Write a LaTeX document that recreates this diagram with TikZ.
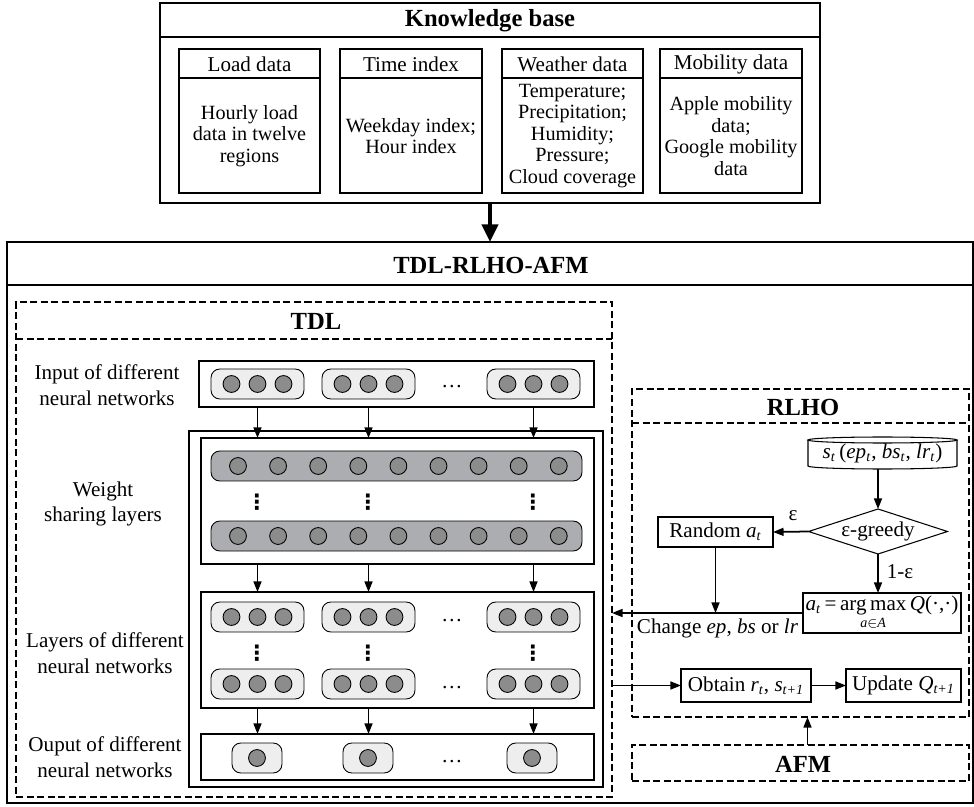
\documentclass[tikz,border=0pt]{standalone}
\usepackage{fontspec}
\usepackage{amsmath}
\setmainfont{Liberation Serif}
\newfontfamily\djv{DejaVu Sans}
\usetikzlibrary{arrows.meta,shapes.geometric,fit}
\definecolor{pillgray}{RGB}{238,238,238}
\definecolor{darkpill}{RGB}{172,173,176}
\definecolor{circgray}{RGB}{140,140,140}
\newcommand\vsb[2]{\textit{#1}\textsubscript{\textit{#2}}}
\begin{document}
\begin{tikzpicture}[x=0.02cm,y=-0.02cm,
 every node/.style={inner sep=0pt, outer sep=0pt},
 frame/.style={draw, line width=0.6pt, inner sep=0pt, outer sep=0pt},
 dbox/.style={draw, dash pattern=on 4pt off 2pt, line width=0.6pt, inner sep=0pt, outer sep=0pt},
 dline/.style={dash pattern=on 4pt off 2pt, line width=0.6pt},
 pill/.style={draw, line width=0.5pt, rounded corners=5pt, fill=pillgray, inner sep=0pt},
 dpill/.style={pill, fill=darkpill},
 neuron/.style={circle, draw, line width=0.5pt, fill=circgray, minimum size=9.6pt, inner sep=0pt},
 arr/.style={-{Triangle[length=6pt,width=4.5pt]}, line width=1pt},
 bigarr/.style={-{Triangle[length=10pt,width=9pt]}, line width=2.5pt},
 lab/.style={font=\fontsize{12}{14.7}\selectfont, align=center},
 kbtext/.style={font=\fontsize{11.5}{12.2}\selectfont, align=center},
 head/.style={font=\fontsize{12}{14}\selectfont},
 ttl/.style={font=\fontsize{14}{16}\selectfont\bfseries},
 txt/.style={font=\fontsize{12}{14}\selectfont},
 vd/.style={font=\djv\bfseries\fontsize{12}{12}\selectfont},
 dia/.style={draw, diamond, line width=0.6pt, aspect=3.1, minimum width=2.78cm, minimum height=0.9cm, inner sep=0pt}]
\useasboundingbox (0,0) rectangle (974,807);

% ---------------- Knowledge base ----------------
\node[frame, fit={(160,3)(820,203)}] (kb) {};
\draw[line width=0.6pt] (160,37) -- (820,37);
\node[ttl] (kbt) at (490,21) {Knowledge base};

\node[frame, fit={(179,49)(320,193)}] (load) {};
\draw[line width=0.6pt] (179,78) -- (320,78);
\node[head] (loadh) at (249.5,64) {Load data};
\node[kbtext] (loadb) at (249.5,136) {Hourly load\\data in twelve\\regions};

\node[frame, fit={(340,49)(482,193)}] (time) {};
\draw[line width=0.6pt] (340,78) -- (482,78);
\node[head] (timeh) at (411,64) {Time index};
\node[kbtext] (timeb) at (411,136) {Weekday index;\\Hour index};

\node[frame, fit={(502,49)(643,193)}] (weather) {};
\draw[line width=0.6pt] (502,78) -- (643,78);
\node[head] (weatherh) at (572.5,64) {Weather data};
\node[kbtext] (weatherb) at (572.5,136) {Temperature;\\Precipitation;\\Humidity;\\Pressure;\\Cloud coverage};

\node[frame, fit={(660,49)(802,193)}] (mob) {};
\draw[line width=0.6pt] (660,78) -- (802,78);
\node[head] (mobh) at (731,64) {Mobility data};
\node[kbtext] (mobb) at (731,136) {Apple mobility\\data;\\Google mobility\\data};

% ---------------- Main box ----------------
\node[frame, line width=0.8pt, fit={(7,242)(973,803)}] (main) {};
\draw[line width=0.8pt] (7,285) -- (973,285);
\node[ttl] (maint) at (491,265) {TDL-RLHO-AFM};
\draw[bigarr] (kb.south) -- (main.north);

% ---------------- TDL ----------------
\node[dbox, fit={(16,302)(612,797)}] (tdl) {};
\draw[dline] (16,339) -- (612,339);
\node[ttl] (tdlt) at (316,321) {TDL};

\node[lab] (linput) at (107,385) {Input of different\\neural networks};
\node[lab] (lweight) at (103,504) {Weight\\sharing layers};
\node[lab] (llayers) at (105,653) {Layers of different\\neural networks};
\node[lab] (loutput) at (105,757) {Ouput of different\\neural networks};

% input
\node[frame, fit={(199,361)(594,407)}] (inbox) {};
\foreach \n/\c in {a/257.5,b/368.5,c/533.5}{
  \node[pill, fit={({\c-46.5},369)({\c+46.5},399)}] (ip\n) {};
  \foreach \k/\d in {1/-26,2/0,3/26}
    \node[neuron] (ip\n\k) at ({\c+\d},384) {};
}
\node[txt, anchor=base] (idots) at (452,388) {…};

% big outer
\node[frame, fit={(189,431)(603,787)}] (big) {};

% weight sharing
\node[frame, fit={(201,438)(594,564)}] (wbox) {};
\node[dpill, fit={(211,451)(582,481)}] (wp1) {};
\node[dpill, fit={(211,521)(582,551)}] (wp2) {};
\foreach \k in {0,...,8}{
  \node[neuron] (wa\k) at ({238+40.1*\k},466) {};
  \node[neuron] (wb\k) at ({238+40.1*\k},536) {};
}
\foreach \n/\c in {a/257,b/368,c/533}
  \node[vd] (wv\n) at (\c,502) {⋮};

% layers
\node[frame, fit={(201,592)(594,708)}] (lbox) {};
\foreach \r/\y in {1/617,2/684}{
  \foreach \n/\c in {a/257.5,b/368.5,c/533.5}{
    \node[pill, fit={({\c-46.5},{\y-15})({\c+46.5},{\y+15})}] (lp\r\n) {};
    \foreach \k/\d in {1/-26,2/0,3/26}
      \node[neuron] (lp\r\n\k) at ({\c+\d},\y) {};
  }
  \node[txt, anchor=base] (ldots\r) at (452,{\y+4}) {…};
}
\foreach \n/\c in {a/257,b/368,c/533}
  \node[vd] (lv\n) at (\c,653) {⋮};

% output
\node[frame, fit={(201,734)(594,780)}] (obox) {};
\foreach \n/\c in {a/257,b/368,c/532}{
  \node[pill, fit={({\c-25},743)({\c+25},773)}] (op\n) {};
  \node[neuron] (on\n) at (\c,758) {};
}
\node[txt, anchor=base] (odots) at (452,762) {…};

% arrows in TDL
\foreach \n in {a,b,c}{
  \draw[arr] (ip\n2 |- inbox.south) -- (ip\n2 |- wbox.north);
  \draw[arr] (ip\n2 |- wbox.south) -- (ip\n2 |- lbox.north);
  \draw[arr] (ip\n2 |- lbox.south) -- (ip\n2 |- obox.north);
}

% ---------------- RLHO ----------------
\node[dbox, fit={(632,389)(969,717)}] (rlho) {};
\draw[dline] (632,423) -- (969,423);
\node[ttl] (rlhot) at (803,407) {RLHO};

\node[txt, minimum width=2.98cm, minimum height=0.64cm] (st) at (882.5,453) {\vsb{s}{t}\,(\vsb{ep}{t}, \vsb{bs}{t}, \vsb{lr}{t})};
\draw[line width=0.6pt] (808,440) -- (808,466) arc[start angle=180,end angle=360,x radius=1.49cm,y radius=0.06cm] -- (957,440);
\draw[line width=0.6pt] (882.5,440) ellipse[x radius=1.49cm, y radius=0.06cm];

\node[dia, txt] (eg) at (878,531.5) {ε-greedy};
\node[frame, txt, minimum width=2.3cm, minimum height=0.6cm] (rand) at (715.5,532) {Random \vsb{a}{t}};
\node[frame, txt, minimum width=3.16cm, minimum height=0.8cm] (amax) at (882,613) {\vsb{a}{t}\,=\,$\mathop{\text{arg\,max}}\limits_{\textit{a}\in\textit{A}}$\,\textit{Q}(·,·)};
\node[frame, txt, minimum width=2.6cm, minimum height=0.66cm] (obt) at (746,685.5) {Obtain \vsb{r}{t}, \vsb{s}{t+1}};
\node[frame, txt, minimum width=2.3cm, minimum height=0.66cm] (upd) at (903.5,685.5) {Update \vsb{Q}{t+1}};

\draw[arr] (eg.north |- st.south) -- (eg.north);
\draw[arr] (eg.west) -- (rand.east);
\node[txt] (eps) at (793,516) {ε};
\draw[arr] (eg.south) -- (eg.south |- amax.north);
\node[txt] (oneeps) at (900,572) {1-ε};
\draw[arr] (amax.west) -- (amax.west -| tdl.east);
\draw[arr] (rand.south) -- (rand.south |- amax.west);
\node[txt] (chg) at (717.5,628) {Change \textit{ep}, \textit{bs} or \textit{lr}};
\draw[arr] (obt.west -| tdl.east) -- (obt.west);
\draw[arr] (obt.east) -- (upd.west);

% ---------------- AFM ----------------
\node[dbox, fit={(632,745)(969,781)}] (afm) {};
\node[ttl] (afmt) at (803,764) {AFM};
\draw[arr] ([xshift=0.14cm]afm.north) -- ([xshift=0.14cm]rlho.south);
\end{tikzpicture}
\end{document}
